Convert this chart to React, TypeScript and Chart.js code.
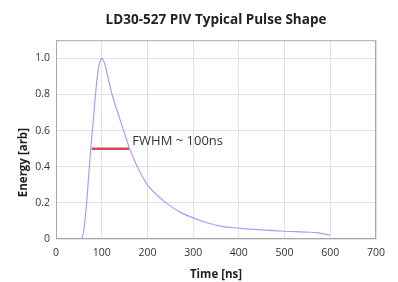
import React, { useEffect, useRef } from "react";
import { Chart, registerables } from "chart.js";

Chart.register(...registerables);

const timeNs = [20, 45, 55, 58, 61, 64, 67, 70, 73, 76, 80, 86, 92, 96, 100, 105, 110, 116, 122, 135, 148, 161, 175, 188, 200, 220, 241, 270, 300, 330, 356, 400, 450, 500, 550, 570, 590, 600];
const energy = [0, 0, 0.002, 0.015, 0.05, 0.12, 0.2, 0.3, 0.4, 0.5, 0.61, 0.79, 0.93, 0.98, 1.0, 0.98, 0.935, 0.87, 0.805, 0.7, 0.6, 0.5, 0.415, 0.35, 0.3, 0.245, 0.2, 0.15, 0.117, 0.09, 0.073, 0.06, 0.05, 0.043, 0.038, 0.035, 0.026, 0.022];
const fwhmX = [78, 160];
const fwhmY = [0.5, 0.5];
const fwhmLabel = "FWHM ~ 100ns";
const fwhmLabelAt = [167, 0.54];
const titleText = "LD30-527 PIV Typical Pulse Shape";
const xTitle = "Time [ns]";
const yTitle = "Energy [arb]";
const xRange = [0, 700];
const yRange = [0, 1.1];

const FONT = "'Open Sans', 'DejaVu Sans', sans-serif";

export default function App() {
  const ref = useRef<HTMLCanvasElement | null>(null);
  useEffect(() => {
    if (!ref.current) return;
    const extras = {
      id: "extras",
      afterDatasetsDraw(chart: any) {
        const { ctx, chartArea, scales } = chart;
        ctx.save();
        ctx.strokeStyle = "#a8a8a8";
        ctx.lineWidth = 1;
        ctx.strokeRect(chartArea.left + 0.5, chartArea.top + 0.5, chartArea.right - chartArea.left - 1, chartArea.bottom - chartArea.top - 1);
        ctx.fillStyle = "#333";
        ctx.font = "13px " + FONT;
        ctx.textAlign = "left";
        ctx.textBaseline = "middle";
        ctx.fillText(fwhmLabel, scales.x.getPixelForValue(fwhmLabelAt[0]), scales.y.getPixelForValue(fwhmLabelAt[1]));
        ctx.font = "bold 11.5px " + FONT;
        ctx.textAlign = "center";
        ctx.fillStyle = "#222";
        ctx.translate(chartArea.left - 32, (chartArea.top + chartArea.bottom) / 2 + 23);
        ctx.rotate(-Math.PI / 2);
        ctx.fillText(yTitle, 0, 0);
        ctx.restore();
      },
    };
    const chart = new Chart(ref.current, {
      type: "line",
      data: {
        datasets: [
          {
            data: timeNs.map((t, i) => ({ x: t, y: energy[i] })),
            borderColor: "#a3a3f2",
            borderWidth: 1.2,
            pointRadius: 0,
            cubicInterpolationMode: "monotone",
            fill: false,
          },
          {
            data: fwhmX.map((t, i) => ({ x: t, y: fwhmY[i] })),
            borderColor: "#dc4458",
            borderWidth: 2.5,
            pointRadius: 0,
            fill: false,
          },
        ],
      },
      options: {
        animation: false,
        responsive: false,
        maintainAspectRatio: false,
        layout: { padding: { left: 0, right: 22, top: 12, bottom: 0 } },
        plugins: {
          legend: { display: false },
          tooltip: { enabled: false },
          title: {
            display: true,
            text: titleText,
            fullSize: false,
            color: "#222",
            font: { family: FONT, size: 13.5, weight: "bold" },
            padding: { top: 0, bottom: 12 },
          },
        },
        scales: {
          x: {
            type: "linear",
            min: xRange[0],
            max: xRange[1],
            afterFit: (s: any) => { s.height = 43; },
            border: { display: false },
            grid: { color: "#e2e2e2", drawTicks: false },
            ticks: { stepSize: 100, padding: 8, color: "#333", font: { family: FONT, size: 10.5 }, maxRotation: 0 },
            title: { display: true, text: xTitle, color: "#222", font: { family: FONT, size: 11.5, weight: "bold" }, padding: 0 },
          },
          y: {
            type: "linear",
            min: yRange[0],
            max: yRange[1],
            afterFit: (s: any) => { s.width = 56; },
            border: { display: false },
            grid: { color: "#e2e2e2", drawTicks: false },
            ticks: {
              stepSize: 0.2,
              includeBounds: false,
              padding: 6,
              color: "#333",
              font: { family: FONT, size: 10.5 },
              callback: (v: any) => (v === 0 ? "0" : Number(v).toFixed(1)),
            },
          },
        },
      },
      plugins: [extras],
    } as any);
    return () => chart.destroy();
  }, []);
  return (
    <div style={{ position: "absolute", left: 0, top: 0, width: 398, height: 282, background: "#fff" }}>
      <canvas ref={ref} width={398} height={282} style={{ width: 398, height: 282 }} />
    </div>
  );
}
